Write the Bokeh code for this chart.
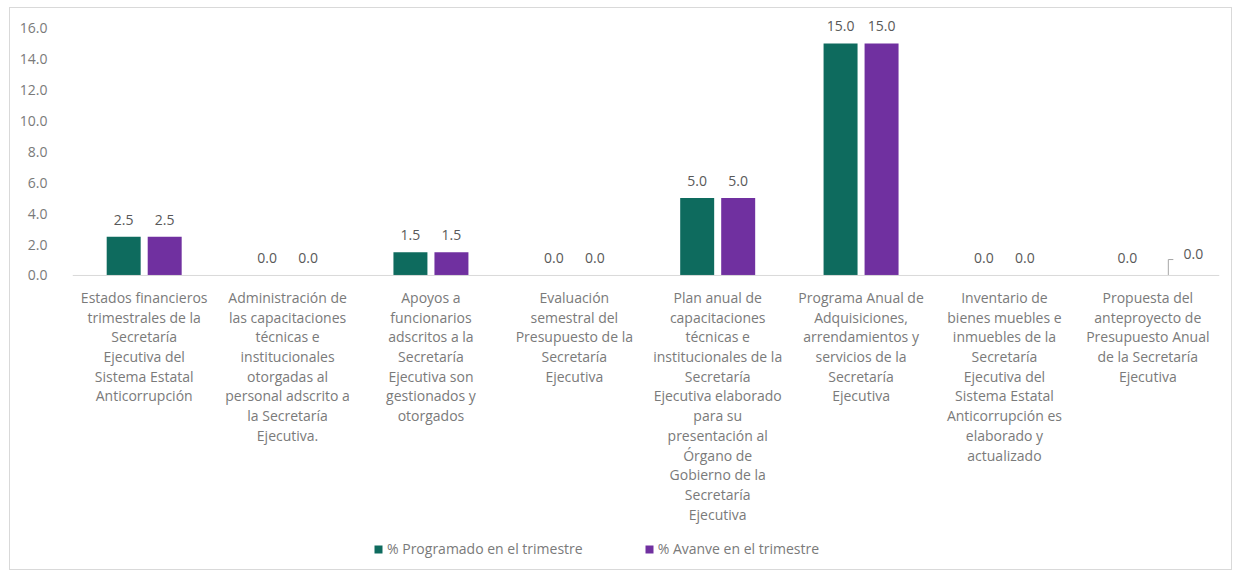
from bokeh.plotting import figure
from bokeh.models import (FactorRange, Range1d, ColumnDataSource, LabelSet, Legend,
                          LegendItem, FixedTicker, Span)
from bokeh.core.properties import value
from bokeh.transform import dodge
from bokeh.embed import file_html
from bokeh.resources import INLINE

categories = [
    "Estados financieros\ntrimestrales de la\nSecretaría\nEjecutiva del\nSistema Estatal\nAnticorrupción",
    "Administración de\nlas capacitaciones\ntécnicas e\ninstitucionales\notorgadas al\npersonal adscrito a\nla Secretaría\nEjecutiva.",
    "Apoyos a\nfuncionarios\nadscritos a la\nSecretaría\nEjecutiva son\ngestionados y\notorgados",
    "Evaluación\nsemestral del\nPresupuesto de la\nSecretaría\nEjecutiva",
    "Plan anual de\ncapacitaciones\ntécnicas e\ninstitucionales de la\nSecretaría\nEjecutiva elaborado\npara su\npresentación al\nÓrgano de\nGobierno de la\nSecretaría\nEjecutiva",
    "Programa Anual de\nAdquisiciones,\narrendamientos y\nservicios de la\nSecretaría\nEjecutiva",
    "Inventario de\nbienes muebles e\ninmuebles de la\nSecretaría\nEjecutiva del\nSistema Estatal\nAnticorrupción es\nelaborado y\nactualizado",
    "Propuesta del\nanteproyecto de\nPresupuesto Anual\nde la Secretaría\nEjecutiva",
]
programado = [2.5, 0.0, 1.5, 0.0, 5.0, 15.0, 0.0, 0.0]
avance = [2.5, 0.0, 1.5, 0.0, 5.0, 15.0, 0.0, 0.0]
series_names = ["% Programado en el trimestre", "% Avanve en el trimestre"]
y_ticks = [0, 2, 4, 6, 8, 10, 12, 14, 16]
y_tick_labels = ["0.0", "2.0", "4.0", "6.0", "8.0", "10.0", "12.0", "14.0", "16.0"]

TEAL = "#0E6B5E"
PURPLE = "#7030A0"
FONT = "Open Sans"
TXT = "#7a7a7a"

p = figure(x_range=FactorRange(factors=categories, range_padding=0, factor_padding=0),
           y_range=Range1d(-18.75, 17), frame_width=1147, frame_height=553,
           output_backend="svg", toolbar_location=None,
           min_border_left=62, min_border_right=12, min_border_top=4, min_border_bottom=4,
           styles={"border": "1px solid #d9d9d9", "margin-left": "9px", "margin-top": "7px"})

n = len(categories)
av_xoff = [0] * (n - 1) + [25]
av_yoff = [17] * (n - 1) + [21]
src = ColumnDataSource(dict(
    cat=categories, prog=programado, av=avance,
    prog_lbl=[f"{v:.1f}" for v in programado],
    av_lbl=[f"{v:.1f}" for v in avance],
    av_xoff=av_xoff, av_yoff=av_yoff,
))

OFF = 0.143
W = 0.237
r1 = p.vbar(x=dodge("cat", -OFF, range=p.x_range), top="prog", width=W, source=src,
            fill_color=TEAL, line_color=None)
r2 = p.vbar(x=dodge("cat", OFF, range=p.x_range), top="av", width=W, source=src,
            fill_color=PURPLE, line_color=None)

# baseline (category axis line)
p.add_layout(Span(location=0, dimension="width", line_color="#d9d9d9", line_width=1))

lbl_kw = dict(text_font=value(FONT), text_font_size="14px", text_color="#595959",
              text_align="center", text_baseline="middle", source=src)
p.add_layout(LabelSet(x=dodge("cat", -OFF, range=p.x_range), y="prog", text="prog_lbl",
                      y_offset=17, **lbl_kw))
p.add_layout(LabelSet(x=dodge("cat", OFF, range=p.x_range), y="av", text="av_lbl",
                      x_offset="av_xoff", y_offset="av_yoff", **lbl_kw))

# category labels under the baseline, one centred line at a time
LINE = 19.7
cl_cat, cl_txt, cl_off, cl_y = [], [], [], []
for c in categories:
    for i, line in enumerate(c.split("\n")):
        cl_cat.append(c)
        cl_txt.append(line)
        cl_off.append(-(22 + i * LINE))
        cl_y.append(0.0)
csrc = ColumnDataSource(dict(cat=cl_cat, txt=cl_txt, off=cl_off, y=cl_y))
p.add_layout(LabelSet(x="cat", y="y", text="txt", source=csrc, y_offset="off",
                      text_font=value(FONT), text_font_size="14px", text_color=TXT,
                      text_align="center", text_baseline="middle"))

# leader line for the displaced last label
lift = 1.03
lsrc = ColumnDataSource(dict(cat=[categories[-1]], y0=[avance[-1]], y1=[avance[-1] + lift]))
p.segment(x0=dodge("cat", OFF, range=p.x_range), x1=dodge("cat", OFF, range=p.x_range),
          y0="y0", y1="y1", source=lsrc, line_color="#a6a6a6", line_width=1)
p.segment(x0=dodge("cat", OFF, range=p.x_range), x1=dodge("cat", OFF + 0.035, range=p.x_range),
          y0="y1", y1="y1", source=lsrc, line_color="#a6a6a6", line_width=1)

p.xgrid.grid_line_color = None
p.ygrid.grid_line_color = None
p.outline_line_color = None
p.xaxis.visible = False

p.yaxis.ticker = FixedTicker(ticks=y_ticks)
p.yaxis.major_label_overrides = {t: l for t, l in zip(y_ticks, y_tick_labels)}
p.yaxis.axis_line_color = None
p.yaxis.major_tick_line_color = None
p.yaxis.minor_tick_line_color = None
p.yaxis.major_label_text_font = FONT
p.yaxis.major_label_text_font_size = "14px"
p.yaxis.major_label_text_color = TXT
p.yaxis.major_label_standoff = 19

legend = Legend(items=[LegendItem(label=series_names[0], renderers=[r1]),
                       LegendItem(label=series_names[1], renderers=[r2])],
                orientation="horizontal", location=(301, 7),
                glyph_width=10, glyph_height=10, label_standoff=4, spacing=61,
                label_text_font=FONT, label_text_font_size="14px", label_text_color=TXT,
                border_line_color=None, background_fill_alpha=0, padding=0, margin=0)
p.add_layout(legend, "center")

open("out.html", "w").write(file_html(p, INLINE))
